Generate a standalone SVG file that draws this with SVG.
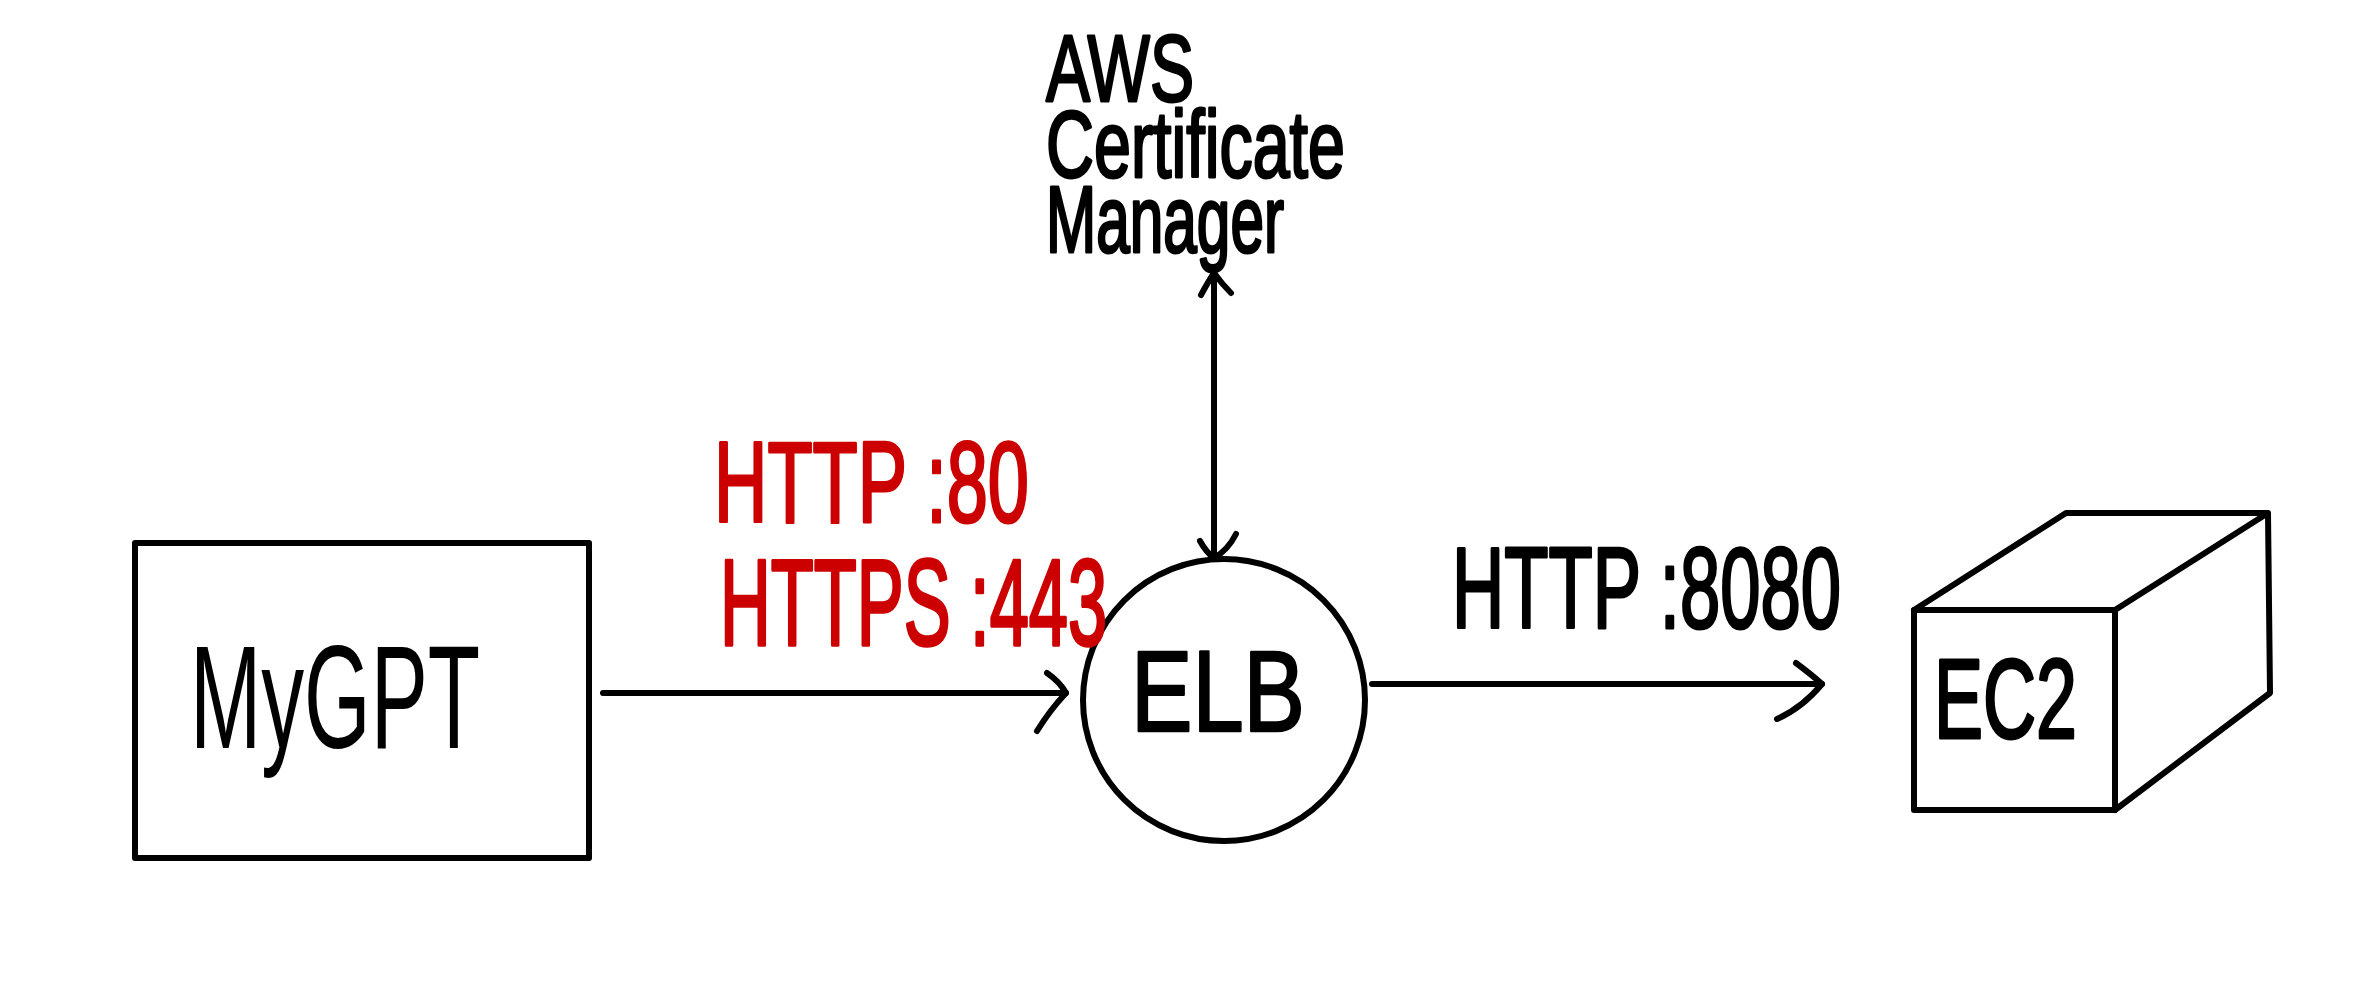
<svg xmlns="http://www.w3.org/2000/svg" width="2356" height="1000" viewBox="0 0 2356 1000">
  <style>
    .shape { fill: none; stroke: #000; stroke-width: 6; stroke-linecap: round; stroke-linejoin: round; }
    .conn { fill: none; stroke: #000; stroke-width: 6; stroke-linecap: round; stroke-linejoin: round; }
    .lbl { font-family: "Liberation Sans", Arial, sans-serif; fill: #000; stroke: #000; stroke-width: 2; stroke-linejoin: round; }
    .thin { stroke: none; }
    .red { fill: #cc0000; stroke: #cc0000; }
  </style>
  <rect width="2356" height="1000" fill="#fff"/>

  <g id="node-acm">
    <text class="lbl" x="1046" y="101" font-size="65" textLength="148" lengthAdjust="spacingAndGlyphs" transform="matrix(1 0 0 1.46 0 -46.46)">AWS</text>
    <text class="lbl" x="1046" y="177" font-size="65" textLength="299" lengthAdjust="spacingAndGlyphs" transform="matrix(1 0 0 1.46 0 -81.42)">Certificate</text>
    <text class="lbl" x="1046" y="252" font-size="60" textLength="238" lengthAdjust="spacingAndGlyphs" transform="matrix(1 0 0 1.58 0 -146.16)">Manager</text>
  </g>

  <g id="node-mygpt">
    <rect class="shape" x="135" y="543" width="454" height="315"/>
    <text class="lbl thin" x="190" y="748" font-size="85.6" textLength="290" lengthAdjust="spacingAndGlyphs" transform="matrix(1 0 0 1.72 0 -538.56)">MyGPT</text>
  </g>

  <g id="node-elb">
    <circle class="shape" cx="1224" cy="700" r="141" stroke-width="5.5"/>
    <text class="lbl" x="1131" y="731" font-size="92" textLength="174" lengthAdjust="spacingAndGlyphs" transform="matrix(1 0 0 1.26 0 -190.06)" stroke-width="3">ELB</text>
  </g>

  <g id="node-ec2">
    <rect class="shape" x="1914" y="610" width="201" height="200"/>
    <path class="shape" d="M1914,610 L2066,513 L2268,513 L2115,610 M2268,513 L2270,693 L2115,810"/>
    <text class="lbl" x="1934" y="738" font-size="73.5" textLength="143" lengthAdjust="spacingAndGlyphs" transform="matrix(1 0 0 1.54 0 -398.52)" stroke-width="3">EC2</text>
  </g>

  <g id="connectors">
    <g id="edge-mygpt-elb">
      <path class="conn" d="M603,693 L1066,693"/>
      <path class="conn" d="M1047,673 Q1060,682 1066,693 Q1050,710 1037,731"/>
      <text class="lbl red" x="714" y="522" font-size="73.6" textLength="315" lengthAdjust="spacingAndGlyphs" transform="matrix(1 0 0 1.56 0 -292.32)">HTTP :80</text>
      <text class="lbl red" x="720" y="645" font-size="70.3" textLength="387" lengthAdjust="spacingAndGlyphs" transform="matrix(1 0 0 1.75 0 -483.75)">HTTPS :443</text>
    </g>
    <g id="edge-elb-ec2">
      <path class="conn" d="M1372,684 L1822,684"/>
      <path class="conn" d="M1796,663 Q1812,675 1822,684 Q1802,708 1777,719"/>
      <text class="lbl" x="1452" y="628" font-size="72" textLength="389" lengthAdjust="spacingAndGlyphs" transform="matrix(1 0 0 1.61 0 -383.08)">HTTP :8080</text>
    </g>
    <g id="edge-elb-acm">
      <path class="conn" d="M1214,277 L1214,557"/>
      <path class="conn" d="M1201,295 Q1208,282 1214,273 Q1222,284 1231,293"/>
      <path class="conn" d="M1200,541 Q1206,552 1214,558 Q1228,550 1236,534"/>
    </g>
  </g>
</svg>
